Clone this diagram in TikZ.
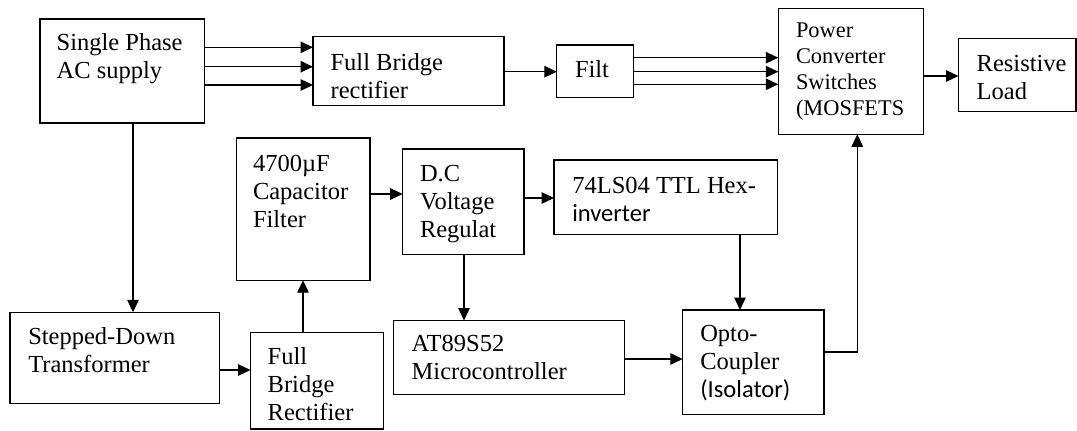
\documentclass[tikz,border=0pt]{standalone}
\usepackage{fontspec}
\setmainfont{Liberation Serif}
\newfontfamily\calib{Carlito}
\usetikzlibrary{arrows.meta}
\tikzset{
  blk/.style={draw, line width=1.3pt, inner sep=0pt, outer sep=0pt, anchor=north west},
  txt/.style={inner sep=0pt, outer sep=0pt, anchor=north west, align=left,
              font=\fontsize{24.5}{28}\selectfont},
  txts/.style={inner sep=0pt, outer sep=0pt, anchor=north west, align=left,
              font=\fontsize{22.4}{25.8}\selectfont},
  arr/.style={-{Triangle[length=12.5pt,width=11.5pt]}, line width=1.3pt}
}
\begin{document}
\begin{tikzpicture}[x=1pt,y=-1pt]
\useasboundingbox (0,0) rectangle (1077,431);
\fill[white] (0,0) rectangle (1077,431);
% boxes
\node[blk, minimum width=164.5pt, minimum height=104pt] (sp) at (40,19) {};
\node[blk, minimum width=191pt, minimum height=69pt] (fb) at (313,36.5) {};
\node[blk, minimum width=76.5pt, minimum height=52.7pt] (filt) at (556.8,45) {};
\node[blk, minimum width=145.2pt, minimum height=126pt] (pw) at (778.3,8.3) {};
\node[blk, minimum width=117.5pt, minimum height=73pt] (res) at (958.5,38.5) {};
\node[blk, minimum width=133.5pt, minimum height=142.2pt] (cap) at (236.5,138) {};
\node[blk, minimum width=121.3pt, minimum height=105.3pt] (dc) at (402.7,149) {};
\node[blk, minimum width=223.7pt, minimum height=74.3pt] (hex) at (554,160) {};
\node[blk, minimum width=209.5pt, minimum height=91pt] (sd) at (10,312.3) {};
\node[blk, minimum width=132.8pt, minimum height=96.7pt] (fbr) at (250.5,332.3) {};
\node[blk, minimum width=230.9pt, minimum height=74pt] (at) at (393.3,320.5) {};
\node[blk, minimum width=141.2pt, minimum height=104.3pt] (opto) at (682.8,310) {};
% texts (first baseline = top + 19.6)
\node[txt] (spT) at (56.7,31.1) {\strut Single Phase\\AC supply};
\node[txt] (fbT) at (330.6,51.0) {\strut Full Bridge\\rectifier};
\node[txt] (filtT) at (575,57.7) {\strut Filt};
\node[txts] (pwT) at (796,19.6) {\rule{0pt}{18.06pt}Power\\Converter\\Switches\\(MOSFETS};
\node[txt] (resT) at (976.7,52.1) {\strut Resistive\\Load};
\node[txt] (capT) at (253,152.1) {\strut 4700µF\\Capacitor\\Filter};
\node[txt] (dcT) at (420,162.1) {\strut D.C\\Voltage\\Regulat};
\node[txt] (hexT) at (572.3,173.7) {\strut 74LS04 TTL Hex-\\{\calib inverter}};
\node[txt] (sdT) at (28.3,324.7) {\strut Stepped-Down\\Transformer};
\node[txt] (fbrT) at (267.7,344.4) {\strut Full\\Bridge\\Rectifier};
\node[txt] (atT) at (411.7,332.1) {\strut AT89S52\\Microcontroller};
\node[txt] (optoT) at (700.3,322.1) {\strut Opto-\\Coupler\\{\calib (Isolator)}};
% connectors
\draw[arr] (sp.east |- 0,47.3) -- (fb.west |- 0,47.3);
\draw[arr] (sp.east |- 0,66.7) -- (fb.west |- 0,66.7);
\draw[arr] (sp.east |- 0,85) -- (fb.west |- 0,85);
\draw[arr] (fb.east |- 0,71.7) -- (filt.west |- 0,71.7);
\draw[arr] (filt.east |- 0,57.7) -- (pw.west |- 0,57.7);
\draw[arr] (filt.east |- 0,71.7) -- (pw.west |- 0,71.7);
\draw[arr] (filt.east |- 0,84.3) -- (pw.west |- 0,84.3);
\draw[arr] (pw.east |- 0,76) -- (res.west |- 0,76);
\draw[arr] (sp.south -| 133,0) -- (sd.north -| 133,0);
\draw[arr] (sd.east |- 0,370) -- (fbr.west |- 0,370);
\draw[arr] (fbr.north -| 303,0) -- (cap.south -| 303,0);
\draw[arr] (cap.east |- 0,194) -- (dc.west |- 0,194);
\draw[arr] (dc.east |- 0,198) -- (hex.west |- 0,198);
\draw[arr] (dc.south -| 464,0) -- (at.north -| 464,0);
\draw[arr] (hex.south -| 740,0) -- (opto.north -| 740,0);
\draw[arr] (at.east |- 0,359) -- (opto.west |- 0,359);
\coordinate (bend) at (857.3,352);
\draw[arr] (opto.east |- bend) -- (bend) -- (bend |- pw.south);
\end{tikzpicture}
\end{document}
